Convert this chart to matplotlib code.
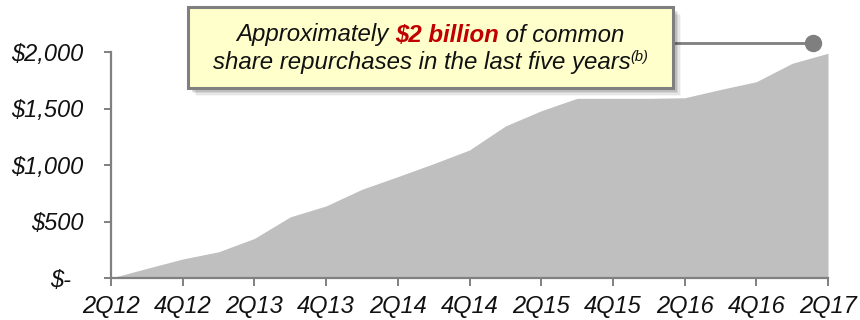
import matplotlib
matplotlib.use("Agg")
import matplotlib.pyplot as plt
import matplotlib.transforms as mtransforms
from matplotlib.patches import Rectangle
import numpy as np

plt.rcParams['font.family'] = ['Liberation Sans', 'DejaVu Sans']

quarters = ["2Q12", "3Q12", "4Q12", "1Q13", "2Q13", "3Q13", "4Q13", "1Q14", "2Q14",
            "3Q14", "4Q14", "1Q15", "2Q15", "3Q15", "4Q15", "1Q16", "2Q16", "3Q16",
            "4Q16", "1Q17", "2Q17"]
repurchases = [0, 85, 168, 232, 350, 541, 638, 785, 897,
               1012, 1133, 1345, 1480, 1590, 1590, 1590, 1595, 1668,
               1737, 1900, 1989]
ytick_values = [0, 500, 1000, 1500, 2000]
ytick_labels = ["$-", "$500", "$1,000", "$1,500", "$2,000"]
callout_value = 2077
callout_pos = 19.57

W, H = 860, 320
fig = plt.figure(figsize=(W / 100, H / 100), dpi=100)
ax = fig.add_axes([111 / W, (H - 278) / H, (828 - 111) / W, (278 - 52) / H])

x = np.arange(len(quarters))
ax.fill_between(x, 0, repurchases, color="#BFBFBF", linewidth=0, zorder=1)

ax.set_xlim(0, len(quarters) - 1)
ax.set_ylim(0, 2000)

gray = "#808080"
for s in ["top", "right"]:
    ax.spines[s].set_visible(False)
for s in ["left", "bottom"]:
    ax.spines[s].set_color(gray)
    ax.spines[s].set_linewidth(1.6)
    ax.spines[s].set_zorder(3)

tfs = 17
ax.set_xticks(x[::2])
ax.set_xticklabels(quarters[::2], fontsize=tfs, style="italic", color="#111111")
ax.set_yticks(ytick_values)
ax.set_yticklabels(ytick_labels, fontsize=tfs, style="italic", color="#111111")
ax.tick_params(axis="x", length=6, width=1.4, color=gray, pad=6, direction="out")
ax.tick_params(axis="y", length=5, width=1.4, color=gray, pad=15, direction="out")

# accounting-style "$-" shifted left
lab0 = ax.get_yticklabels()[0]
lab0.set_transform(lab0.get_transform() + mtransforms.ScaledTranslation(-12 / 100, 0, fig.dpi_scale_trans))

# callout connector and dot
ax.plot([14.1, callout_pos], [callout_value, callout_value], color="#7F7F7F", lw=2, clip_on=False, zorder=4)
ax.plot([callout_pos], [callout_value], "o", color="#7F7F7F", ms=11.5, clip_on=False, zorder=5)

# callout box with shadow (pixel coords -> figure fraction)
bx0, bx1, by0, by1 = 188, 673, 7, 88
def fr(px, py):
    return px / W, (H - py) / H
for i, a in enumerate([0.10, 0.10, 0.08, 0.06, 0.04]):
    off = 2 + i * 1.6
    x0, y0 = fr(bx0 + off, by1 + off)
    rect = Rectangle((x0, y0), (bx1 - bx0) / W, (by1 - by0) / H, transform=fig.transFigure,
                     facecolor="black", alpha=a, edgecolor="none", zorder=6)
    fig.add_artist(rect)
x0, y0 = fr(bx0, by1)
box = Rectangle((x0, y0), (bx1 - bx0) / W, (by1 - by0) / H, transform=fig.transFigure,
                facecolor="#FFFFCC", edgecolor="#7F7F7F", linewidth=2.2, zorder=7)
fig.add_artist(box)

fs = 17.3
renderer = fig.canvas.get_renderer()
def place_line(pieces, baseline_py):
    arts = []
    for txt, kw in pieces:
        t = fig.text(0, 0, txt, fontsize=kw.get("size", fs), style="italic",
                     weight=kw.get("weight", "normal"), color=kw.get("color", "#111111"),
                     ha="left", va="baseline", zorder=8)
        arts.append((t, kw))
    widths = [t.get_window_extent(renderer).width for t, _ in arts]
    total = sum(widths)
    cx = (bx0 + bx1) / 2
    xs = cx - total / 2
    for (t, kw), w in zip(arts, widths):
        t.set_position(fr(xs, baseline_py - kw.get("rise", 0)))
        xs += w

place_line([("Approximately ", {}),
            ("$2 billion", {"weight": "bold", "color": "#C00000"}),
            (" of common", {})], 41.5)
place_line([("share repurchases in the last five years", {}),
            ("(b)", {"size": 10.5, "rise": 8.5})], 69.5)

fig.savefig("out.png", dpi=100)
